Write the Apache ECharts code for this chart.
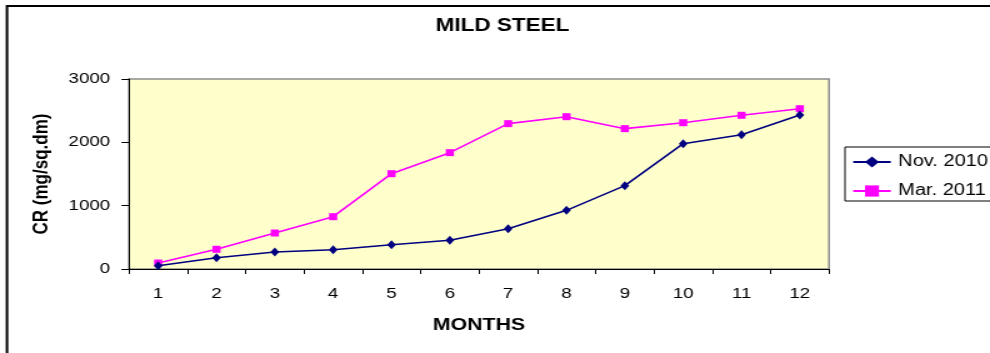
<!DOCTYPE html>
<html>
<head>
<meta charset="utf-8">
<script src="https://cdn.jsdelivr.net/npm/echarts@6/dist/echarts.min.js"></script>
<style>
  html, body { margin: 0; padding: 0; background: #ffffff; overflow: hidden; }
  /* The chart is laid out in a narrower box and widened horizontally,
     giving the wide, stretched look of the original spreadsheet graphic. */
  #chart { width: 792px; height: 353px; transform: scaleX(1.25); transform-origin: 0 0; }
</style>
</head>
<body>
<div id="chart"></div>
<script>
// Months of exposure
const months = ['1', '2', '3', '4', '5', '6', '7', '8', '9', '10', '11', '12'];
// Corrosion rate, mg/sq.dm
const nov2010 = [50, 178, 268, 305, 384, 453, 637, 926, 1316, 1979, 2121, 2432];
const mar2011 = [95, 311, 568, 826, 1505, 1837, 2295, 2405, 2216, 2310, 2427, 2531];
// Value axis ticks
const yMin = 0;
const yMax = 3000;
const yStep = 1000;

const FONT = "'Liberation Sans', Arial, sans-serif";

const chart = echarts.init(document.getElementById('chart'), null, { renderer: 'canvas' });

chart.setOption({
  animation: false,
  backgroundColor: '#ffffff',
  textStyle: { fontFamily: FONT, color: '#000000' },
  title: {
    text: 'MILD STEEL',
    left: 402,
    top: 17,
    padding: 0,
    textAlign: 'center',
    textStyle: { fontFamily: FONT, fontSize: 18, fontWeight: 'bold', color: '#000000' }
  },
  graphic: [
    // outer chart frame
    {
      type: 'rect', silent: true, z: -1,
      shape: { x: 5.6, y: 6, width: 900, height: 400 },
      style: { fill: null, stroke: '#000000', lineWidth: 2 }
    },
    // legend frame
    {
      type: 'rect', silent: true, z: 1,
      shape: { x: 676, y: 147, width: 300, height: 54 },
      style: { fill: '#ffffff', stroke: '#000000', lineWidth: 1 }
    }
  ],
  legend: {
    orient: 'vertical',
    left: 681.6,
    top: 154,
    padding: 0,
    itemWidth: 30,
    itemHeight: 14,
    itemGap: 13,
    z: 3,
    textStyle: { fontFamily: FONT, fontSize: 16, color: '#000000', padding: [0, 0, 0, 1] },
    data: ['Nov. 2010', 'Mar. 2011']
  },
  grid: {
    left: 103.2,
    top: 79,
    width: 560,
    height: 190,
    show: true,
    backgroundColor: '#FFFFCC',
    borderColor: '#8c8c8c',
    borderWidth: 1.5
  },
  xAxis: {
    type: 'category',
    data: months,
    boundaryGap: true,
    name: 'MONTHS',
    nameLocation: 'middle',
    nameGap: 48,
    nameTextStyle: { fontFamily: FONT, fontSize: 17, fontWeight: 'bold', color: '#000000' },
    axisLine: { show: true, lineStyle: { color: '#000000', width: 1 } },
    axisTick: { show: true, alignWithLabel: false, length: 5, lineStyle: { color: '#000000' } },
    axisLabel: { fontFamily: FONT, fontSize: 15, color: '#000000', margin: 17 },
    splitLine: { show: false }
  },
  yAxis: {
    type: 'value',
    min: yMin,
    max: yMax,
    interval: yStep,
    name: 'CR (mg/sq.dm)',
    nameLocation: 'middle',
    nameRotate: 90,
    nameGap: 61,
    nameTextStyle: { fontFamily: FONT, fontSize: 17, fontWeight: 'bold', color: '#000000' },
    axisLine: { show: true, lineStyle: { color: '#000000', width: 1 } },
    axisTick: { show: true, length: 6, lineStyle: { color: '#000000' } },
    axisLabel: {
      fontFamily: FONT, fontSize: 15, color: '#000000', margin: 15,
      formatter: function (v) { return String(v); }
    },
    splitLine: { show: false }
  },
  series: [
    {
      name: 'Nov. 2010',
      type: 'line',
      data: nov2010,
      symbol: 'diamond',
      symbolSize: [7, 9],
      showAllSymbol: true,
      color: '#000080',
      lineStyle: { color: '#000080', width: 1.6 },
      itemStyle: { color: '#000080' },
      z: 3
    },
    {
      name: 'Mar. 2011',
      type: 'line',
      data: mar2011,
      symbol: 'rect',
      symbolSize: [6.5, 7],
      showAllSymbol: true,
      color: '#FF00FF',
      lineStyle: { color: '#FF00FF', width: 1.6 },
      itemStyle: { color: '#FF00FF' },
      z: 2
    }
  ]
});
</script>
</body>
</html>
